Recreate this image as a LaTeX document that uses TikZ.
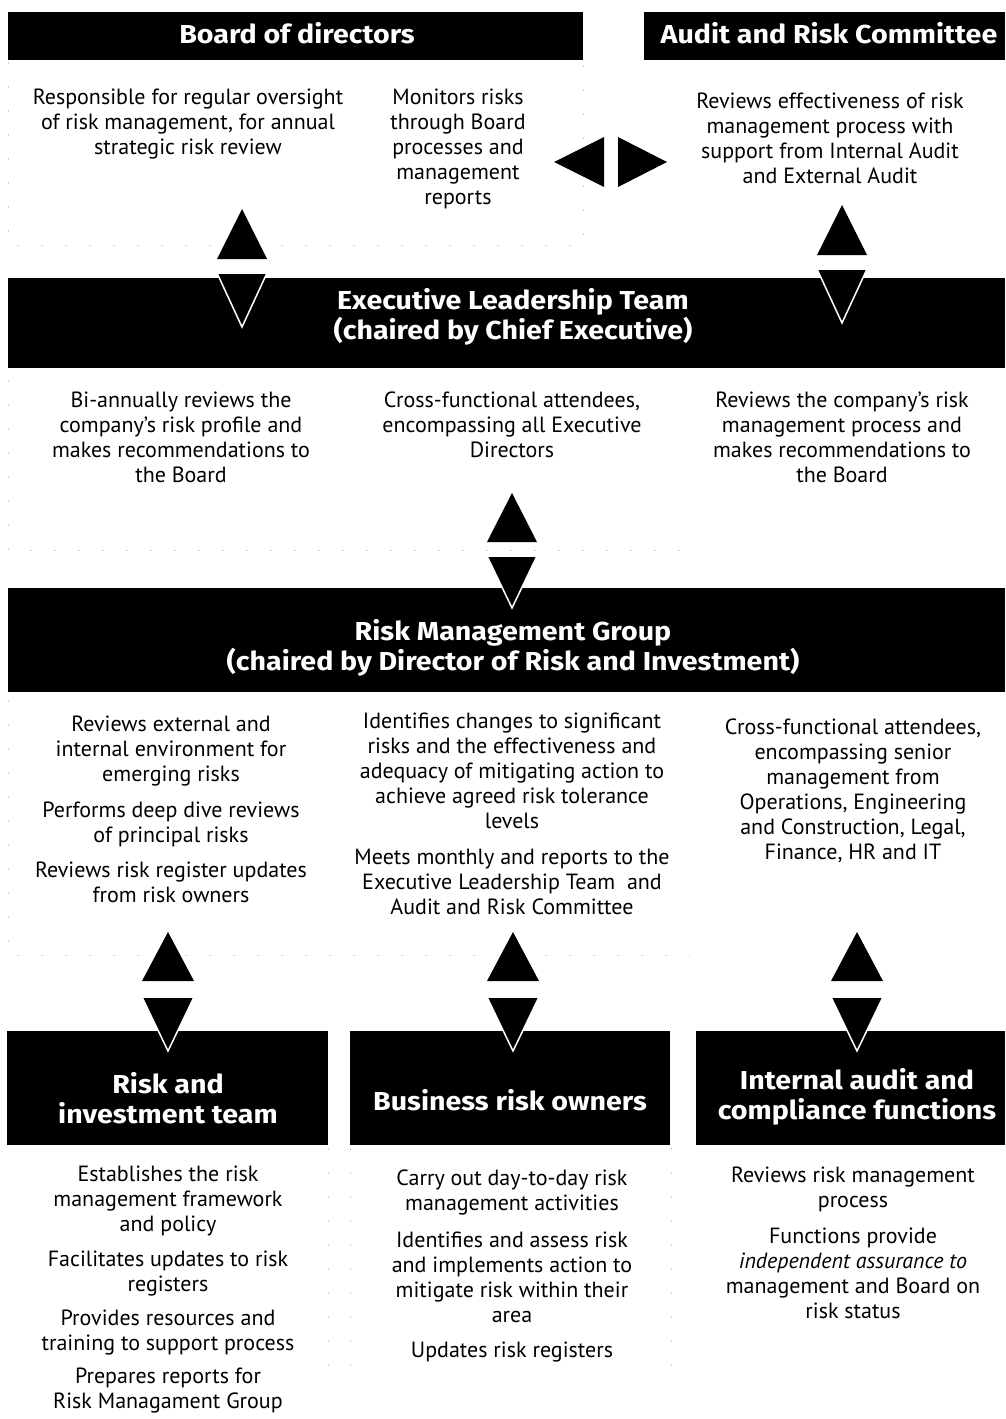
\documentclass[tikz,border=0pt]{standalone}
\usepackage{fontspec}
\setmainfont{PT Sans}
\newfontfamily\headfont{Fira Sans}[FakeStretch=1.1]
\begin{document}
\begin{tikzpicture}[x=1pt,y=-1pt,
  bar/.style={fill=black, draw=none, inner sep=0pt, anchor=north west},
  head/.style={text=white, font=\headfont\bfseries\fontsize{26}{30}\selectfont, align=center, inner sep=0pt},
  body/.style={font=\fontsize{22}{25}\selectfont, align=center, anchor=north, inner sep=0pt, yshift=-2pt},
  uptri/.style={fill=black},
  dntri/.style={fill=black, draw=white, line width=1.5pt, line join=miter},
  faint/.style={draw=black!18, line width=0.8pt, dash pattern=on 2pt off 22pt}
]
\useasboundingbox (0,0) rectangle (1005,1419);
\fill[white] (0,0) rectangle (1005,1419);

% faint frames
\draw[faint] (8,62) -- (8,245) -- (583,245) -- (583,62);
\draw[faint] (8,380) -- (8,550) -- (690,550);
\draw[faint] (8,700) -- (8,955) -- (690,955);
\draw[faint] (328,1148) -- (328,1370);
\draw[faint] (350,1148) -- (350,1370);
\draw[faint] (671,1148) -- (671,1370);

% bars
\node[bar, minimum width=575, minimum height=48] (board) at (8,12) {};
\node[head] (boardt) at (297,33) {Board of directors};
\node[bar, minimum width=361, minimum height=48] (arc) at (644,12) {};
\node[head] (arct) at (829,33) {Audit and Risk Committee};

\node[bar, minimum width=997, minimum height=90] (elt) at (8,278) {};
\node[head] (eltt) at (513,317) {Executive Leadership Team\\(chaired by Chief Executive)};

\node[bar, minimum width=997, minimum height=104] (rmg) at (8,588) {};
\node[head] (rmgt) at (513,648) {Risk Management Group\\(chaired by Director of Risk and Investment)};

\node[bar, minimum width=321, minimum height=114] (rit) at (7,1031) {};
\node[head] (ritt) at (168,1098) {Risk and\\investment team};
\node[bar, minimum width=320, minimum height=114] (bro) at (350,1031) {};
\node[head] (brot) at (510,1100) {Business risk owners};
\node[bar, minimum width=309, minimum height=114] (iac) at (696,1031) {};
\node[head] (iact) at (857,1097) {Internal audit and\\compliance functions};

% board texts
\node[body] (b1) at (188,87) {Responsible for regular oversight\\of risk management, for annual\\strategic risk review};
\node[body] (b2) at (458,87) {Monitors risks\\through Board\\processes and\\management\\reports};
\node[body] (a1) at (830,91) {Reviews effectiveness of risk\\management process with\\support from Internal Audit\\and External Audit};

% ELT texts
\node[body] (e1) at (181,390) {Bi-annually reviews the\\company's risk profile and\\makes recommendations to\\the Board};
\node[body] (e2) at (512,390) {Cross-functional attendees,\\encompassing all Executive\\Directors};
\node[body] (e3) at (842,390) {Reviews the company's risk\\management process and\\makes recommendations to\\the Board};

% RMG texts
\node[body] (r1) at (171,714) {Reviews external and\\internal environment for\\emerging risks\\[11pt]Performs deep dive reviews\\of principal risks\\[10pt]Reviews risk register updates\\from risk owners};
\node[body] (r2) at (512,711) {Identifies changes to significant\\risks and the effectiveness and\\adequacy of mitigating action to\\achieve agreed risk tolerance\\levels\\[11pt]Meets monthly and reports to the\\Executive Leadership Team\ \ and\\Audit and Risk Committee};
\node[body] (r3) at (853,717) {Cross-functional attendees,\\encompassing senior\\management from\\Operations, Engineering\\and Construction, Legal,\\Finance, HR and IT};

% bottom texts
\node[body] (t1) at (168,1164) {Establishes the risk\\management framework\\and policy\\[10pt]Facilitates updates to risk\\registers\\[9pt]Provides resources and\\training to support process\\[8pt]Prepares reports for\\Risk Managament Group};
\node[body] (t2) at (512,1168) {Carry out day-to-day risk\\management activities\\[12pt]Identifies and assess risk\\and implements action to\\mitigate risk within their\\area\\[10pt]Updates risk registers};
\node[body] (t3) at (853,1165) {Reviews risk management\\process\\[11pt]Functions provide\\\textit{independent assurance to}\\management and Board on\\risk status};

% side triangles between Board and Audit
\fill[uptri] (554,162) -- (604,137) -- (604,187) -- cycle;
\fill[uptri] (618,137) -- (667,162) -- (618,187) -- cycle;

% board <-> ELT
\fill[uptri] (242,209) -- (267,259) -- (217,259) -- cycle;
\draw[dntri] (217,273) -- (267,273) -- (242,327) -- cycle;
% audit <-> ELT
\fill[uptri] (842,205) -- (867,255) -- (817,255) -- cycle;
\draw[dntri] (817,269) -- (867,269) -- (842,323) -- cycle;
% ELT <-> RMG
\fill[uptri] (512,493) -- (537,542) -- (487,542) -- cycle;
\draw[dntri] (487,556) -- (537,556) -- (512,608) -- cycle;
% RMG <-> bottom
\foreach \cx in {168,513,857}{
  \fill[uptri] (\cx,932) -- (\cx+26,981) -- (\cx-26,981) -- cycle;
  \draw[dntri] (\cx-26,997) -- (\cx+26,997) -- (\cx,1051) -- cycle;
}
\end{tikzpicture}
\end{document}
